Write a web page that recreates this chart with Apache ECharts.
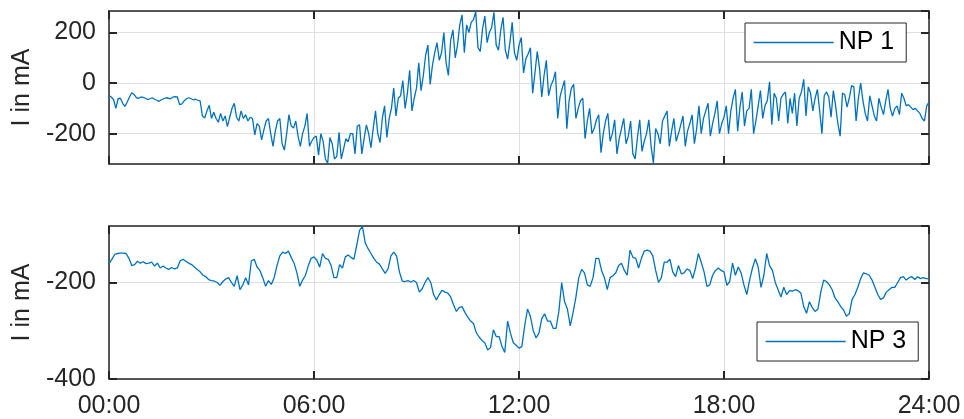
<!DOCTYPE html>
<html><head><meta charset="utf-8">
<script src="https://cdn.jsdelivr.net/npm/echarts@6/dist/echarts.min.js"></script>
<style>html,body{margin:0;padding:0;background:#fff}#c{width:964px;height:419px}</style>
</head><body><div id="c"></div>
<script>
const seriesNames = ['NP 1', 'NP 3'];
const xTickLabels = ['00:00', '06:00', '12:00', '18:00', '24:00'];
const yAxisTitle = 'I in mA';
const np1StepMinutes = 4;
const np1 = [
  -49, -55, -65, -100, -62, -60, -80, -92, -75, -55, -38, -45, -58, -60, -55,
  -57, -60, -65, -62, -58, -64, -68, -72, -66, -62, -58, -60, -62, -56, -54,
  -55, -85, -82, -70, -62, -58, -62, -66, -64, -68, -70, -130, -138, -110, -88,
  -140, -115, -140, -155, -120, -150, -130, -172, -135, -100, -80, -135, -150, -110, -140,
  -125, -150, -135, -140, -205, -160, -170, -225, -185, -150, -140, -200, -250, -190, -150,
  -140, -240, -265, -200, -125, -170, -178, -150, -210, -250, -200, -170, -120, -250, -230,
  -215, -210, -285, -200, -230, -300, -317, -215, -240, -300, -290, -195, -300, -260, -220,
  -232, -200, -200, -280, -170, -165, -280, -220, -165, -200, -255, -180, -110, -200, -235,
  -139, -90, -215, -140, -100, -20, -130, -60, -50, 10, -100, -40, 50, -110, -60,
  -20, 80, -30, 30, 110, 150, -5, 70, 120, 160, 90, 120, 200, 80, 30,
  170, 210, 100, 150, 230, 270, 120, 230, 200, 240, 250, 283, 140, 125, 215,
  265, 160, 200, 220, 280, 150, 130, 210, 260, 130, 95, 160, 240, 120, 90,
  150, 180, 40, 95, 115, 140, -40, 40, 125, 60, -55, 30, 90, -50, -10,
  10, 45, -140, -55, -20, 10, -180, -70, -20, -5, -140, -100, -70, -60, -220,
  -150, -100, -200, -180, -145, -125, -275, -200, -150, -120, -230, -200, -145, -280, -220,
  -180, -140, -240, -210, -150, -280, -300, -215, -145, -270, -230, -200, -145, -250, -317,
  -180, -200, -240, -150, -130, -110, -250, -190, -140, -230, -200, -165, -130, -250, -190,
  -160, -125, -240, -180, -90, -200, -140, -110, -80, -210, -160, -120, -70, -200, -160,
  -135, -90, -200, -110, -60, -25, -190, -95, -35, -170, -110, -100, -25, -200, -150,
  -90, -30, -140, -90, -70, 5, -165, -40, -60, -150, -60, -45, -35, -160, -60,
  -120, -40, -170, -60, -35, 15, -130, -15, -40, -110, -60, -25, -110, -200, -50,
  -35, -55, -135, -30, -90, -160, -210, -40, -45, -95, -60, -10, -15, -150, -60,
  0, -70, -120, -150, -50, -90, -130, -150, -60, -95, -125, -70, -25, -100, -130,
  -100, -90, -125, -40, -60, -90, -85, -95, -105, -100, -110, -120, -140, -150, -90,
  -75
];
const np3StepMinutes = 5;
const np3 = [
  -161, -152, -142, -140, -139, -139, -140, -150, -165, -163, -156, -160,
  -157, -161, -160, -158, -166, -160, -170, -166, -170, -173, -169, -172,
  -170, -155, -152, -156, -160, -163, -168, -173, -178, -185, -188, -194,
  -196, -197, -200, -206, -198, -193, -190, -200, -208, -186, -215, -205,
  -190, -205, -155, -152, -168, -175, -190, -208, -196, -204, -190, -165,
  -145, -137, -140, -135, -148, -160, -180, -208, -195, -185, -165, -150,
  -147, -154, -168, -140, -150, -152, -165, -190, -190, -163, -170, -147,
  -143, -148, -152, -123, -92, -84, -118, -130, -140, -150, -158, -162,
  -172, -181, -172, -145, -137, -145, -178, -197, -198, -196, -199, -196,
  -200, -220, -213, -200, -190, -200, -225, -236, -225, -216, -220, -222,
  -230, -246, -260, -252, -250, -262, -272, -280, -285, -304, -313, -320,
  -325, -340, -335, -298, -312, -312, -332, -345, -280, -305, -325, -330,
  -336, -333, -290, -255, -270, -300, -315, -305, -275, -265, -280, -280,
  -295, -295, -260, -200, -240, -255, -290, -262, -230, -190, -173, -180,
  -205, -208, -190, -150, -150, -175, -190, -215, -190, -186, -180, -165,
  -160, -175, -185, -133, -148, -150, -170, -150, -135, -133, -135, -145,
  -175, -200, -190, -158, -158, -152, -178, -188, -165, -182, -180, -172,
  -175, -192, -170, -140, -158, -178, -208, -205, -185, -175, -170, -175,
  -178, -206, -198, -160, -185, -168, -180, -205, -225, -195, -170, -151,
  -168, -210, -185, -140, -165, -175, -200, -215, -230, -210, -225, -217,
  -218, -215, -217, -222, -250, -264, -240, -252, -260, -255, -220, -195,
  -198, -205, -215, -232, -240, -250, -257, -270, -265, -235, -225, -210,
  -192, -180, -182, -185, -195, -210, -225, -235, -232, -220, -215, -210,
  -210, -200, -190, -188, -195, -190, -188, -194, -188, -192, -190, -192,
  -192
];
const topYRange = [-320, 285];
const bottomYRange = [-400, -83];

const FONT = '"Liberation Sans", Arial, sans-serif';
const AX = '#262626';
const GRID = '#dfdfdf';
const LINE = '#0072BD';

function xAx(gi, pos, showLabels) {
  return {
    type: 'value', gridIndex: gi, position: pos, min: 0, max: 1440, interval: 360,
    axisLine: { show: true, onZero: false, lineStyle: { color: AX, width: 1.5 } },
    axisTick: { show: true, inside: true, length: 8, lineStyle: { color: AX, width: 2 } },
    axisLabel: { show: showLabels, margin: 15, fontSize: 25, color: AX, fontFamily: FONT,
      formatter: v => xTickLabels[Math.round(v / 360)] },
    splitLine: { show: pos === 'bottom', lineStyle: { color: GRID, width: 1 } }
  };
}
function yAx(gi, pos, range, showLabels, showMin) {
  const a = {
    type: 'value', gridIndex: gi, position: pos, min: range[0], max: range[1],
    splitNumber: 3, minInterval: 200, maxInterval: 200,
    axisLine: { show: true, onZero: false, lineStyle: { color: AX, width: 1.5 } },
    axisTick: { show: true, inside: true, length: 8, lineStyle: { color: AX, width: 2 } },
    axisLabel: { show: showLabels, margin: 13, fontSize: 25, color: AX, fontFamily: FONT,
      showMinLabel: showMin, showMaxLabel: false },
    splitLine: { show: pos === 'left', lineStyle: { color: GRID, width: 1 } }
  };
  if (pos === 'left') {
    a.name = yAxisTitle; a.nameLocation = 'middle'; a.nameRotate = 90; a.nameGap = 74;
    a.nameTextStyle = { fontSize: 25, color: AX, fontFamily: FONT };
  }
  return a;
}
function legendAt(name, left, top) {
  return {
    data: [name], left: left, top: top, orient: 'horizontal',
    padding: [7, 12, 7, 8], itemWidth: 80, itemHeight: 14,
    borderColor: AX, borderWidth: 1, backgroundColor: '#fff', borderRadius: 0,
    itemStyle: { opacity: 0 },
    lineStyle: { width: 1.3 },
    textStyle: { fontSize: 25, color: '#000', fontFamily: FONT }
  };
}

const chart = echarts.init(document.getElementById('c'), null, { renderer: 'canvas' });
chart.setOption({
  animation: false,
  backgroundColor: '#fff',
  grid: [
    { left: 109, right: 35, top: 11, height: 153 },
    { left: 109, right: 35, top: 226, height: 153.5 }
  ],
  xAxis: [xAx(0, 'bottom', false), xAx(0, 'top', false), xAx(1, 'bottom', true), xAx(1, 'top', false)],
  yAxis: [yAx(0, 'left', topYRange, true, false), yAx(0, 'right', topYRange, false, false),
          yAx(1, 'left', bottomYRange, true, true), yAx(1, 'right', bottomYRange, false, false)],
  legend: [legendAt(seriesNames[0], 745, 23), legendAt(seriesNames[1], 757, 322)],
  series: [
    { name: seriesNames[0], type: 'line', xAxisIndex: 0, yAxisIndex: 0, symbol: 'none',
      lineStyle: { color: LINE, width: 1.3 }, itemStyle: { color: LINE },
      data: np1.map((v, i) => [i * np1StepMinutes, v]) },
    { name: seriesNames[1], type: 'line', xAxisIndex: 2, yAxisIndex: 2, symbol: 'none',
      lineStyle: { color: LINE, width: 1.3 }, itemStyle: { color: LINE },
      data: np3.map((v, i) => [i * np3StepMinutes, v]) }
  ]
});
</script></body></html>
